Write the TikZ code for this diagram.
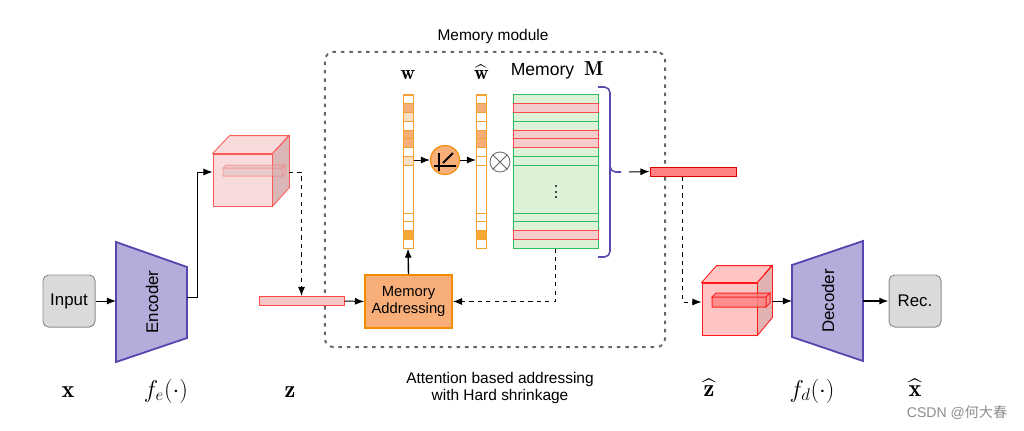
\documentclass[tikz,border=0pt]{standalone}
\usepackage{fontspec}
\setsansfont{Liberation Sans}
\newfontfamily\cjk{Noto Sans CJK SC}
\usepackage{amsmath}
\usetikzlibrary{arrows.meta}
\usetikzlibrary{positioning,shapes}

\definecolor{boxfill}{HTML}{DADADA}
\definecolor{boxline}{HTML}{8E8E8E}
\definecolor{coderfill}{HTML}{B4ADDB}
\definecolor{coderline}{HTML}{5646AE}
\definecolor{orfill}{HTML}{F8AE78}
\definecolor{orline}{HTML}{F28C00}
\definecolor{wmid}{HTML}{F8AE78}
\definecolor{wlight}{HTML}{FDE0C4}
\definecolor{wdark}{HTML}{F6A935}
\definecolor{cellline}{HTML}{F5A033}
\definecolor{mgreen}{HTML}{2DBE5F}
\definecolor{mgreenfill}{HTML}{DDF1D6}
\definecolor{mred}{HTML}{FF4A4A}
\definecolor{mredfill}{HTML}{F4CCCC}
\definecolor{cubeline}{HTML}{FF5A5A}
\definecolor{cubeAfill}{HTML}{F8DCDC}
\definecolor{cubeAside}{HTML}{DAB6B6}
\definecolor{cubeBfill}{HTML}{FFC4C4}
\definecolor{cubeBside}{HTML}{E2B2B2}
\definecolor{zfill}{HTML}{F5C6C6}
\definecolor{zhfill}{HTML}{FF8282}
\definecolor{modline}{HTML}{666666}
\definecolor{bracecol}{HTML}{5B4BAE}

\tikzset{
  box/.style={draw=boxline, fill=boxfill, rounded corners=4pt, line width=0.7pt,
    minimum width=1.3cm, minimum height=1.3cm, font=\sffamily\fontsize{12}{14}\selectfont},
  coder/.style={draw=coderline, fill=coderfill, line width=1.3pt},
  coderlabel/.style={rotate=90, font=\sffamily\fontsize{12}{14}\selectfont},
  addr/.style={draw=orline, fill=orfill, line width=1.3pt, align=center,
    minimum width=2.175cm, minimum height=1.325cm, font=\sffamily\fontsize{10.5}{12.5}\selectfont},
  vecbox/.style={draw=cellline, fill=white, inner sep=0pt, minimum width=0.25cm, minimum height=3.825cm},
  cell/.style={draw=cellline},
  mem/.style={draw=mgreen, fill=mgreenfill, inner sep=0pt, minimum width=2.125cm, minimum height=3.825cm},
  memline/.style={draw=mgreen},
  memr/.style={draw=mred, fill=mredfill},
  cubeA/.style={draw=cubeline, fill=cubeAfill, line width=0.6pt, inner sep=0pt},
  cubeB/.style={draw=red!90, fill=cubeBfill, line width=0.6pt, inner sep=0pt},
  zvec/.style={draw=mred, fill=zfill, inner sep=0pt, minimum height=0.225cm},
  zhvec/.style={draw=red!85!black, fill=zhfill, inner sep=0pt, minimum height=0.225cm},
  relu/.style={circle, draw=orline, fill=orfill, line width=0.8pt, minimum size=0.725cm, inner sep=0pt},
  module/.style={draw=modline, rounded corners=6pt, line width=1.4pt, dash pattern=on 2.5pt off 3.5pt,
    inner sep=0pt},
  lbl/.style={font=\sffamily\fontsize{11}{12.5}\selectfont},
  mathlbl/.style={font=\LARGE},
  wlbl/.style={font=\Large}
}

\begin{document}
\begin{tikzpicture}[x=0.025cm,y=-0.025cm,>={Latex[length=6.5pt,width=5pt]},line width=0.7pt]
  \useasboundingbox (0,0) rectangle (1024,430);

  \node[module, minimum width=8.5cm, minimum height=7.375cm] (mod) at (495,199.5) {};
  \node[lbl] (modl) at (493,36) {Memory module};

  \node[box] (in) at (69,301) {Input};
  \node[box] (rec) at (915,301) {Rec.};

  \draw[coder] (116,242) -- (187,267) -- (187,338) -- (116,362) -- cycle;
  \node[coderlabel] (enc) at (152,302) {Encoder};
  \coordinate (enc-in) at (116,301);
  \coordinate (enc-out) at (187,297);
  \draw[coder] (792,265) -- (863,241) -- (863,361) -- (792,337) -- cycle;
  \node[coderlabel] (dec) at (828,301) {Decoder};
  \coordinate (dec-in) at (792,301);
  \coordinate (dec-out) at (863,301);

  \node[cubeA, minimum width=1.475cm, minimum height=1.3cm] (cube1) at (242.5,180) {};
  \draw[cubeA] (cube1.north west) -- ++(17,-18) -- ++(59,0) -- (cube1.north east) -- cycle;
  \draw[cubeA, fill=cubeAside] (cube1.north east) -- ++(17,-18) -- ++(0,52) -- (cube1.south east) -- cycle;
  \draw[draw=cubeline, fill=cubeAside, opacity=0.45] (223,168) rectangle (282,176)
    (223,168) -- (226,165) -- (285,165) -- (282,168) -- cycle
    (282,168) -- (285,165) -- (285,173) -- (282,176) -- cycle;
  \coordinate (c1out) at (289,172);

  \node[zvec, minimum width=2.125cm] (zbar) at (301.5,301) {};

  \node[addr] (ma) at (408.5,301.5) {Memory\\Addressing};

  \node[vecbox] (w) at (408,171.5) {};
  \foreach \c [count=\k from 0] in {white,wmid,wlight,white,wmid,wmid,white,wlight}
    \draw[cell, fill=\c] (403,{95+8.75*\k}) rectangle ++(10,8.75);
  \foreach \c [count=\k from 0] in {white,white,wdark,white}
    \draw[cell, fill=\c] (403,{213+8.75*\k}) rectangle ++(10,8.75);
  \node[vecbox] (wh) at (481.5,171.5) {};
  \foreach \c [count=\k from 0] in {white,wmid,white,white,wmid,wmid,white,white}
    \draw[cell, fill=\c] (476.5,{95+8.75*\k}) rectangle ++(10,8.75);
  \foreach \c [count=\k from 0] in {white,white,wdark,white}
    \draw[cell, fill=\c] (476.5,{213+8.75*\k}) rectangle ++(10,8.75);
  \node[wlbl] (wl) at (408,75) {$\mathbf{w}$};
  \node[wlbl] (whl) at (481.5,72) {$\widehat{\mathbf{w}}$};

  \node[relu] (rl) at (445,160) {};
  \draw[line width=1.4pt] ([shift={(-11,6)}]rl.center) -- ([shift={(11,6)}]rl.center)
    ([shift={(-6,-7)}]rl.center) -- ([shift={(-6,11)}]rl.center)
    ([shift={(-2,3)}]rl.center) -- ([shift={(8,-7)}]rl.center);

  \node[circle, draw=black!60, minimum size=0.5cm, inner sep=0pt, line width=0.6pt] (ot) at (500,162) {};
  \draw[black!60, line width=0.6pt] (ot.north west) -- (ot.south east) (ot.north east) -- (ot.south west);

  \node[mem] (mem) at (555.5,171.5) {};
  \foreach \k in {1,...,8}
    \draw[memline] (513,{95+8.75*\k}) -- ++(85,0);
  \foreach \k in {0,...,3}
    \draw[memline] (513,{213+8.75*\k}) -- ++(85,0);
  \foreach \y in {103.75,130,138.75,230.5}
    \draw[memr] (513,\y) rectangle ++(85,8.75);
  \node[font=\Large] (dots) at (556,188) {$\vdots$};
  \node[font=\sffamily\fontsize{12.5}{14}\selectfont] (meml) at (557,70) {Memory~~\Large$\mathbf{M}$};

  \draw[bracecol, line width=1.1pt, rounded corners=4pt] (598,87) -| (610,172) -- (621,172)
    (610,166) |- (598,257);
  \coordinate (brace) at (629,172);

  \node[zhvec, minimum width=2.15cm] (zh) at (693,171.5) {};

  \node[cubeB, minimum width=1.375cm, minimum height=1.3cm] (cube2) at (729.5,309) {};
  \draw[cubeB] (cube2.north west) -- ++(15,-17) -- ++(55,0) -- (cube2.north east) -- cycle;
  \draw[cubeB, fill=cubeBside] (cube2.north east) -- ++(15,-17) -- ++(0,52) -- (cube2.south east) -- cycle;
  \draw[draw=red, fill=zhfill, opacity=0.8] (712,297) rectangle (766,307)
    (712,297) -- (716,293) -- (770,293) -- (766,297) -- cycle
    (766,297) -- (770,293) -- (770,303) -- (766,307) -- cycle;
  \coordinate (c2out) at (772,301);

  \draw[->] (in.east) -- (enc-in);
  \draw[->] (enc-out) -- ++(10,0) |- ([yshift=0.2cm]cube1.west);
  \draw[->, dashed] (c1out) -| (zbar.north);
  \draw[->] (zbar.east) -- (ma.west);
  \draw[->, line width=1pt] (ma.north) -- (w.south);
  \draw[->] (w.east |- rl) -- (rl);
  \draw[->] (rl) -- (wh.west |- rl);
  \draw[->, dashed] (mem.south) |- (ma.east);
  \draw[->] (brace) -- (zh.west);
  \draw[->, dashed] ([xshift=0.825cm]zh.south west) |- ([yshift=0.175cm]cube2.west);
  \draw[->] (c2out) -- (dec-in);
  \draw[->, line width=1pt] (dec-out) -- (rec.west);

  \node[mathlbl] (xl) at (68,392) {$\mathbf{x}$};
  \node[mathlbl] (fel) at (166,391) {$f_e(\cdot)$};
  \node[mathlbl] (zl) at (290,392) {$\mathbf{z}$};
  \node[lbl, align=center] (att) at (500,388) {Attention based addressing\\with Hard shrinkage};
  \node[mathlbl] (zhl) at (709,388) {$\widehat{\mathbf{z}}$};
  \node[mathlbl] (fdl) at (812,391) {$f_d(\cdot)$};
  \node[mathlbl] (xhl) at (915,388) {$\widehat{\mathbf{x}}$};
  \node[text=black!45, font=\sffamily\fontsize{10}{12}\selectfont] (wm) at (957,413) {CSDN @{\cjk 何大春}};
\end{tikzpicture}
\end{document}
